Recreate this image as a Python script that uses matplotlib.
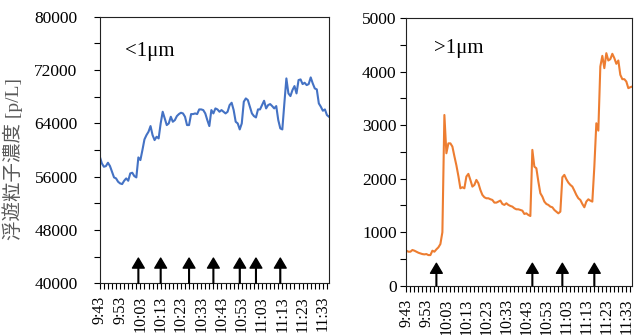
import matplotlib.pyplot as plt
import numpy as np

plt.rcParams['font.family'] = ['Liberation Serif', 'Noto Sans CJK JP']

# ---- data: one sample per minute from 9:43 ----
small_counts = [59000, 58000, 57500, 57600, 58100, 57600, 56750, 55900, 55750, 55250,
                55000, 54900, 55400, 55750, 55400, 56500, 56600, 56100, 55900, 58900,
                58500, 60000, 61600, 62250, 62750, 63600, 62250, 61500, 62000, 61750,
                64000, 65750, 64750, 63750, 64000, 65000, 64250, 64500, 65100, 65400,
                65600, 65500, 65000, 63750, 63750, 65400, 65400, 65500, 65400, 66100,
                66100, 66000, 65500, 64500, 63600, 66000, 65500, 66250, 66100, 65750,
                66000, 65750, 65500, 65750, 66750, 67100, 66000, 64250, 64000, 63100,
                64000, 67250, 67750, 67500, 66500, 65500, 65100, 64900, 66100, 66100,
                66750, 67400, 66250, 66750, 66900, 66600, 66250, 66600, 64500, 63250,
                63100, 67000, 70750, 68500, 68100, 69000, 69600, 68500, 70500, 70600,
                69900, 70100, 69750, 69900, 70900, 70000, 69250, 69100, 67000, 66500,
                65900, 66100, 65250, 65000]

large_counts = [655, 636, 636, 668, 655, 636, 617, 604, 592, 586,
                592, 573, 573, 655, 636, 680, 717, 779, 1000, 3190,
                2475, 2660, 2660, 2600, 2420, 2250, 2050, 1821, 1840, 1821,
                2040, 2090, 1977, 1852, 1883, 1977, 1915, 1790, 1697, 1653,
                1634, 1634, 1616, 1603, 1553, 1553, 1572, 1591, 1528, 1510,
                1541, 1510, 1491, 1478, 1447, 1428, 1428, 1416, 1403, 1341,
                1353, 1322, 1303, 2538, 2225, 2195, 1946, 1728, 1665, 1572,
                1528, 1510, 1478, 1466, 1416, 1384, 1353, 1384, 2027, 2071,
                1990, 1927, 1884, 1853, 1778, 1697, 1634, 1603, 1528, 1466,
                1572, 1615, 1590, 1572, 2225, 3035, 2898, 4096, 4295, 4065,
                4345, 4208, 4233, 4333, 4252, 4146, 4208, 3940, 3859, 3859,
                3815, 3691, 3709, 3722]

# event arrows (minutes after 9:43)
arrows_small = [19, 30, 44, 56, 69, 77, 89]
arrows_large = [15, 63, 78, 94]

start_h, start_m = 9, 43
tick_labels = []
for m in range(0, 111, 10):
    t = start_h * 60 + start_m + m
    tick_labels.append(f"{t // 60}:{t % 60:02d}")

minutes = np.arange(len(small_counts))

fig = plt.figure(figsize=(6.4, 3.35), dpi=100)
ax1 = fig.add_axes([0.156, 0.154, 0.358, 0.796])
ax2 = fig.add_axes([0.635, 0.147, 0.353, 0.799])


def style_axis(ax, pad_y):
	ax.set_xlim(0, len(minutes) - 1)
	ax.set_xticks(range(0, 111, 10))
	ax.set_xticklabels(tick_labels, rotation=90)
	ax.set_xticks(range(0, len(minutes), 2), minor=True)
	ax.tick_params(axis='x', which='both', direction='out', length=4, width=0.8,
	               labelsize=11.5, pad=5)
	ax.tick_params(axis='y', which='both', direction='out', length=4, width=0.8,
	               labelsize=12.5, pad=pad_y)
	for s in ax.spines.values():
		s.set_linewidth(0.8)
		s.set_color('#222222')


ax1.plot(minutes, small_counts, color='#4472C4', lw=1.5)
ax1.set_ylim(40000, 80000)
ax1.set_yticks(np.arange(40000, 80001, 8000))
ax1.set_yticks(np.arange(40000, 80001, 4000), minor=True)
style_axis(ax1, 12)
# serif first so "[p/L]" stays serif, kanji fall back to the CJK font
ax1.set_ylabel('浮遊粒子濃度 [p/L]', family=['Liberation Serif', 'Noto Sans CJK JP'],
               fontsize=14, color='#595959')
ax1.yaxis.set_label_coords(-0.336, 0.466)
ax1.text(0.11, 0.868, '<1μm', transform=ax1.transAxes, fontsize=15, va='center')

ax2.plot(minutes, large_counts, color='#ED7D31', lw=1.5)
ax2.set_ylim(0, 5000)
ax2.set_yticks(np.arange(0, 5001, 1000))
ax2.set_yticks(np.arange(0, 5001, 500), minor=True)
style_axis(ax2, 3)
ax2.text(0.12, 0.885, '>1μm', transform=ax2.transAxes, fontsize=15, va='center')

arrow_kw = dict(facecolor='black', edgecolor='black', width=0.5, headwidth=8.5,
                headlength=7.2, shrink=0)
for x in arrows_small:
	ax1.annotate('', xy=(x, 43800), xytext=(x, 40000), arrowprops=arrow_kw)
for x in arrows_large:
	ax2.annotate('', xy=(x, 420), xytext=(x, 0), arrowprops=arrow_kw)

fig.savefig('out.png', dpi=100)
